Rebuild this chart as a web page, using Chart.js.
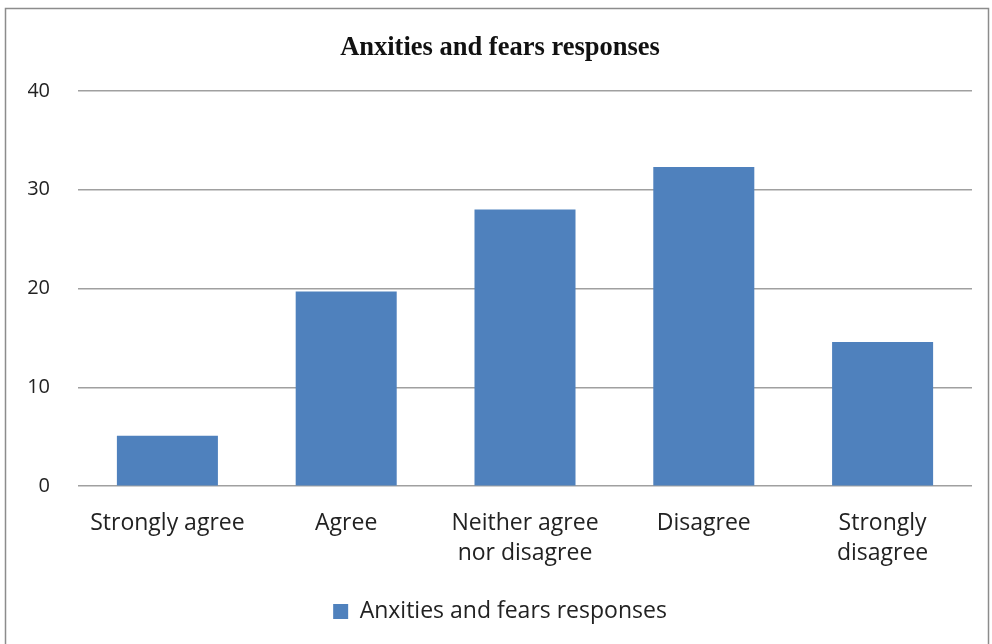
<!DOCTYPE html>
<html>
<head>
<meta charset="utf-8">
<script src="https://cdn.jsdelivr.net/npm/chart.js@4/dist/chart.umd.min.js"></script>
<style>
html,body{margin:0;padding:0;background:#fff;}
#wrap{position:absolute;left:0;top:0;width:992px;height:644px;}
</style>
</head>
<body>
<div id="wrap"><canvas id="c"></canvas></div>
<script>
const categories = [["Strongly agree"], ["Agree"], ["Neither agree", "nor disagree"], ["Disagree"], ["Strongly", "disagree"]];
const seriesName = "Anxities and fears responses";
const values = [5.1, 19.7, 28.0, 32.3, 14.6];
const yTicks = [0, 10, 20, 30, 40];

const frame = {
  id: 'frame',
  beforeDraw(chart) {
    const ctx = chart.ctx;
    ctx.save();
    ctx.fillStyle = '#fff';
    ctx.fillRect(0, 0, chart.width, chart.height);
    ctx.strokeStyle = '#8c8c8c';
    ctx.lineWidth = 1.5;
    ctx.strokeRect(5.5, 8.5, 983, 660);
    ctx.restore();
  }
};

new Chart(document.getElementById('c'), {
  type: 'bar',
  data: {
    labels: categories,
    datasets: [{
      label: seriesName,
      data: values,
      backgroundColor: '#4f81bd',
      borderWidth: 0,
      categoryPercentage: 1.0,
      barPercentage: 0.565
    }]
  },
  options: {
    responsive: true,
    maintainAspectRatio: false,
    animation: false,
    devicePixelRatio: 1,
    layout: { padding: { left: 28, right: 20, top: 32, bottom: 11 } },
    plugins: {
      title: {
        display: true,
        text: seriesName,
        color: '#111',
        font: { family: 'Liberation Serif', size: 26.5, weight: 'bold' },
        padding: { top: 0, bottom: 27 }
      },
      legend: {
        display: true,
        position: 'bottom',
        labels: {
          color: '#222',
          font: { family: 'Open Sans', size: 23 },
          boxWidth: 15,
          boxHeight: 15,
          padding: 18
        }
      },
      tooltip: { enabled: false }
    },
    scales: {
      x: {
        grid: { display: false },
        border: { display: false },
        afterFit(axis) { axis.paddingLeft = 0; axis.paddingRight = 0; },
        ticks: {
          color: '#222',
          font: { family: 'Open Sans', size: 23, lineHeight: 1.3 },
          padding: 14,
          maxRotation: 0,
          autoSkip: false
        }
      },
      y: {
        min: 0,
        max: 40,
        afterBuildTicks(axis) { axis.ticks = yTicks.map(v => ({ value: v })); },
        afterFit(axis) { axis.width = 50; },
        grid: { color: '#a0a0a0', lineWidth: 1.5, drawTicks: false },
        border: { display: false },
        ticks: {
          color: '#222',
          font: { family: 'Open Sans', size: 20 },
          padding: 28
        }
      }
    }
  },
  plugins: [frame]
});
</script>
</body>
</html>
